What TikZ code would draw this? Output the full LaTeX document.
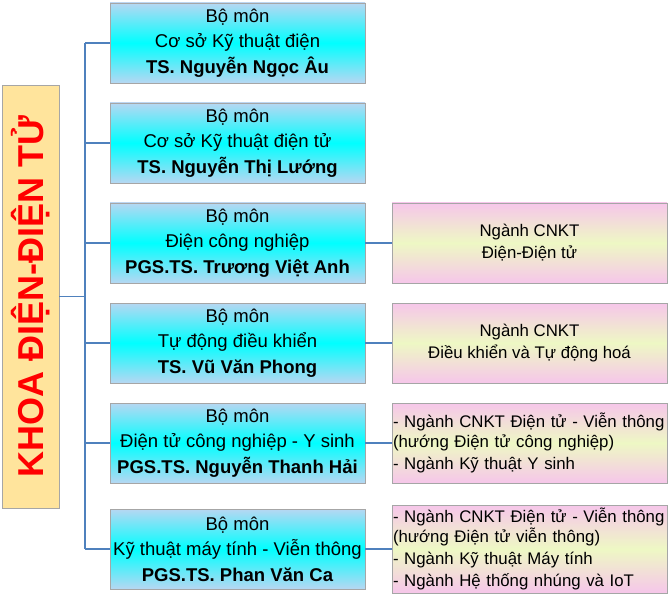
\documentclass[tikz,border=0pt]{standalone}
\usepackage{fontspec}
\setmainfont{Liberation Sans}
\usepackage{tikz}
\usetikzlibrary{positioning}
\definecolor{boxline}{HTML}{A6A6A6}
\definecolor{linkblue}{HTML}{4F81BD}
\definecolor{deptedge}{HTML}{B7D7F2}
\definecolor{deptmid}{HTML}{00FFFF}
\definecolor{majpink}{HTML}{F6C6EA}
\definecolor{majmid}{HTML}{EEF8C4}
\definecolor{facfill}{HTML}{FFE49C}

\begin{document}
\begin{tikzpicture}[x=1pt,y=-1pt,
	dept/.style={draw=boxline, top color=deptedge, bottom color=deptedge, middle color=deptmid,
		minimum width=255pt, minimum height=80pt, inner sep=0pt, align=center,
		font=\fontsize{18.5}{25.5}\selectfont},
	major/.style={draw=boxline, top color=majpink, bottom color=majpink, middle color=majmid,
		minimum width=275pt, inner sep=0pt, align=center,
		font=\fontsize{16.8}{22}\selectfont},
	link/.style={linkblue, line width=1.2pt}]
	\useasboundingbox (0,0) rectangle (670,599);
	%\draw[step=50,color=gray] (0,0) grid (670,599);
	\node[draw=boxline, fill=facfill, minimum width=57pt, minimum height=423pt] (fac) at (30.5,296.5) {};
	\node[rotate=90, text=red, font=\fontsize{36}{36}\selectfont\bfseries] at (fac.center) {KHOA ĐIỆN-ĐIỆN TỬ};
	\coordinate (spine) at (85,0);
	% bo mon
	\node[dept] (d1) at (237.5,43) {Bộ môn\\Cơ sở Kỹ thuật điện\\\textbf{TS. Nguyễn Ngọc Âu}};
	\node[dept] (d2) at (237.5,143) {Bộ môn\\Cơ sở Kỹ thuật điện tử\\\textbf{TS. Nguyễn Thị Lướng}};
	\node[dept] (d3) at (237.5,243) {Bộ môn\\Điện công nghiệp\\\textbf{PGS.TS. Trương Việt Anh}};
	\node[dept] (d4) at (237.5,343) {Bộ môn\\Tự động điều khiển\\\textbf{TS. Vũ Văn Phong}};
	\node[dept] (d5) at (237.5,443) {Bộ môn\\Điện tử công nghiệp - Y sinh\\\textbf{PGS.TS. Nguyễn Thanh Hải}};
	\node[dept] (d6) at (237.5,549) {Bộ môn\\Kỹ thuật máy tính - Viễn thông\\\textbf{PGS.TS. Phan Văn Ca}};
	% nganh
	\node[major, minimum height=80pt] (m3) at (529.5,243) {Ngành CNKT\\Điện-Điện tử};
	\node[major, minimum height=80pt] (m4) at (529.5,343) {Ngành CNKT\\Điều khiển và Tự động hoá};
	\node[major, minimum height=80pt, text width=273pt, align=left] (m5) at (529.5,443)
		{- Ngành CNKT Điện tử - Viễn thông\\[-1.5pt](hướng Điện tử công nghiệp)\\- Ngành Kỹ thuật Y sinh};
	\node[major, minimum height=88pt, text width=273pt, align=left] (m6) at (529.5,549)
		{- Ngành CNKT Điện tử - Viễn thông\\[-1.5pt](hướng Điện tử viễn thông)\\- Ngành Kỹ thuật Máy tính\\- Ngành Hệ thống nhúng và IoT};
	% lines
	\draw[link] (fac.east) -- (fac.east -| spine);
	\draw[link] (d1.west -| spine) -- (d6.west -| spine);
	\draw[link] (d1.west) -- (d1.west -| spine);
	\draw[link] (d2.west) -- (d2.west -| spine);
	\draw[link] (d3.west) -- (d3.west -| spine);
	\draw[link] (d4.west) -- (d4.west -| spine);
	\draw[link] (d5.west) -- (d5.west -| spine);
	\draw[link] (d6.west) -- (d6.west -| spine);
	\draw[link] (d3.east) -- (m3.west);
	\draw[link] (d4.east) -- (m4.west);
	\draw[link] (d5.east) -- (m5.west);
	\draw[link] (d6.east) -- (m6.west);
\end{tikzpicture}
\end{document}
